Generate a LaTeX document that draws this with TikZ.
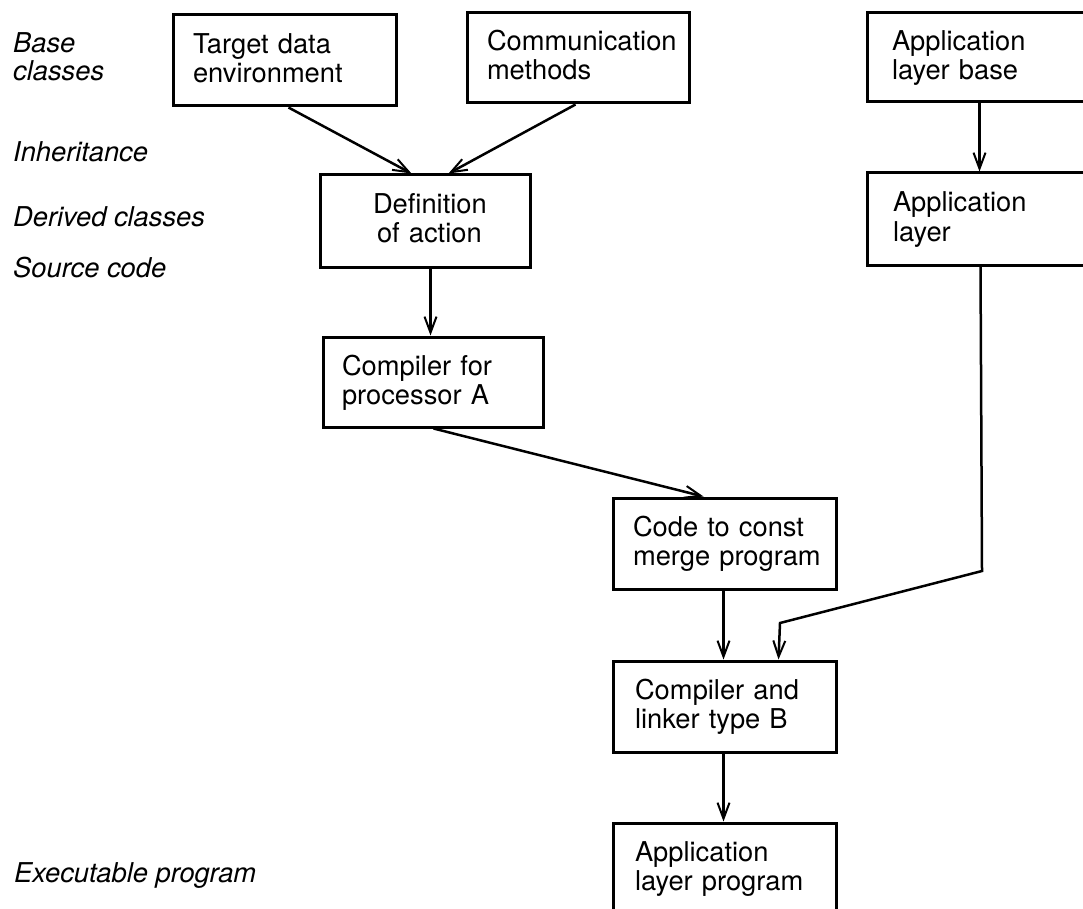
\documentclass[tikz,border=0pt]{standalone}
\usepackage{fontspec}
\setmainfont{TeX Gyre Heros}
\usetikzlibrary{arrows.meta}
\setlength{\parindent}{0pt}
\newcommand{\BoxStrut}{\rule[-7pt]{0pt}{29pt}}
\newcommand{\LabStrut}{\rule[-7pt]{0pt}{28pt}}
\newcommand{\ind}[1]{\BoxStrut\hspace*{#1pt}}
\begin{document}
\begin{tikzpicture}[x=1pt,y=-1pt,
  box/.style={draw, line width=3pt, rectangle, inner sep=0pt, align=left,
    font=\fontsize{27.3}{29}\selectfont},
  lab/.style={font=\fontsize{27.3}{28}\selectfont\itshape, inner sep=0pt, align=left},
  conn/.style={line width=2.5pt, -{Straight Barb[length=16pt,width=12pt,line width=2pt]}}
]
\useasboundingbox (0,0) rectangle (1083,909);
\clip (0,0) rectangle (1083,909);

% left labels
\node[lab, anchor=north west] (lbase) at (13,31) {\LabStrut Base\\\LabStrut classes};
\node[lab, anchor=base west] (linh) at (13,162) {Inheritance};
\node[lab, anchor=base west] (lder) at (13,227) {Derived classes};
\node[lab, anchor=base west] (lsrc) at (13,277) {Source code};
\node[lab, anchor=base west] (lexe) at (14,882) {Executable program};

% boxes
\node[box, minimum width=223pt, minimum height=91pt, text width=221pt] (b1) at (284.5,60.5)
  {\ind{19}Target data\\\ind{19}environment};
\node[box, minimum width=222pt, minimum height=90pt, text width=220pt] (b2) at (578,58)
  {\ind{19}\mbox{Communication}\\\ind{19}methods};
\node[box, minimum width=222pt, minimum height=89pt, text width=220pt] (b3) at (978,57.5)
  {\ind{24}Application\\\ind{24}layer base};
\node[box, minimum width=210pt, minimum height=92pt, text width=208pt] (b4) at (425,221)
  {\ind{52}Definition\\\ind{56}of action};
\node[box, minimum width=222pt, minimum height=92pt, text width=220pt] (b5) at (978,219)
  {\ind{25}Application\\\ind{25}layer};
\node[box, minimum width=220pt, minimum height=90pt, text width=218pt] (b6) at (433,382)
  {\ind{18}Compiler for\\\ind{18}processor A};
\node[box, minimum width=223pt, minimum height=91pt, text width=221pt] (b7) at (724.5,543.5)
  {\ind{19}Code to const\\\ind{19}merge program};
\node[box, minimum width=223pt, minimum height=91pt, text width=221pt] (b8) at (724.5,706.5)
  {\ind{21}Compiler and\\\ind{21}linker type B};
\node[box, minimum width=223pt, minimum height=91pt, text width=221pt] (b9) at (724.5,868.5)
  {\ind{21}Application\\\ind{21}layer program};

% bends
\coordinate (k1) at (982,571);
\coordinate (k2) at (780,623);

% connectors
\draw[conn] ([xshift=117pt]b1.south west) -- ([xshift=93pt]b4.north west);
\draw[conn] ([xshift=110pt]b2.south west) -- ([xshift=130pt]b4.north west);
\draw[conn] ([xshift=114pt]b3.south west) -- ([xshift=114pt]b5.north west);
\draw[conn] ([xshift=112pt]b4.south west) -- ([xshift=109pt]b6.north west);
\draw[conn] ([xshift=112pt]b6.south west) -- ([xshift=92pt]b7.north west);
\draw[conn] ([xshift=112pt]b7.south west) -- ([xshift=112pt]b8.north west);
\draw[conn] ([xshift=115pt]b5.south west) -- (k1) -- (k2) -- ([xshift=167pt]b8.north west);
\draw[conn] ([xshift=112pt]b8.south west) -- ([xshift=112pt]b9.north west);
\end{tikzpicture}
\end{document}
